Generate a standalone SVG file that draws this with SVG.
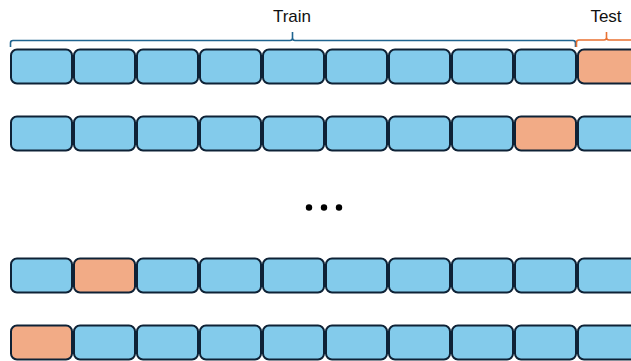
<svg xmlns="http://www.w3.org/2000/svg" width="631" height="361" viewBox="0 0 631 361">
<defs>
<style>
.b{fill:#83CBEB;stroke:#0E2236;stroke-width:2}
.o{fill:#F2AB86;stroke:#0E2236;stroke-width:2}
.lbl{font-family:"Liberation Sans",Arial,sans-serif;font-size:17px;fill:#111;text-anchor:middle}
.br{fill:none;stroke-width:1.6}
</style>
<rect id="c" width="61" height="34" rx="6"/>
</defs>
<rect width="631" height="361" fill="#fff"/>
<g id="connectors">
<path class="br" stroke="#1F6490" d="M10.5,47 V43 Q10.5,40.5 13,40.5 H290 Q292.5,40.5 292.5,38 V32 M292.5,38 Q292.5,40.5 295,40.5 H573 Q575.5,40.5 575.5,43 V47"/>
<path class="br" stroke="#E97132" d="M576.5,47 V42.5 Q576.5,40 579,40 H604 Q606.5,40 606.5,37.5 V32 M606.5,37.5 Q606.5,40 609,40 H640"/>
</g>
<g id="label-train"><text class="lbl" x="292" y="22">Train</text></g>
<g id="label-test"><text class="lbl" x="606" y="22">Test</text></g>
<g id="row1">
<rect class="b" x="11" y="49.5" width="61" height="34" rx="6"/>
<rect class="b" x="74" y="49.5" width="61" height="34" rx="6"/>
<rect class="b" x="137" y="49.5" width="61" height="34" rx="6"/>
<rect class="b" x="200" y="49.5" width="61" height="34" rx="6"/>
<rect class="b" x="263" y="49.5" width="61" height="34" rx="6"/>
<rect class="b" x="326" y="49.5" width="61" height="34" rx="6"/>
<rect class="b" x="389" y="49.5" width="61" height="34" rx="6"/>
<rect class="b" x="452" y="49.5" width="61" height="34" rx="6"/>
<rect class="b" x="515" y="49.5" width="61" height="34" rx="6"/>
<rect class="o" x="578" y="49.5" width="61" height="34" rx="6"/>
</g>
<g id="row2">
<rect class="b" x="11" y="116.5" width="61" height="34" rx="6"/>
<rect class="b" x="74" y="116.5" width="61" height="34" rx="6"/>
<rect class="b" x="137" y="116.5" width="61" height="34" rx="6"/>
<rect class="b" x="200" y="116.5" width="61" height="34" rx="6"/>
<rect class="b" x="263" y="116.5" width="61" height="34" rx="6"/>
<rect class="b" x="326" y="116.5" width="61" height="34" rx="6"/>
<rect class="b" x="389" y="116.5" width="61" height="34" rx="6"/>
<rect class="b" x="452" y="116.5" width="61" height="34" rx="6"/>
<rect class="o" x="515" y="116.5" width="61" height="34" rx="6"/>
<rect class="b" x="578" y="116.5" width="61" height="34" rx="6"/>
</g>
<g id="ellipsis" fill="#000">
<circle cx="309" cy="207.5" r="3.2"/>
<circle cx="324" cy="207.5" r="3.2"/>
<circle cx="339" cy="207.5" r="3.2"/>
</g>
<g id="row3">
<rect class="b" x="11" y="258.5" width="61" height="34" rx="6"/>
<rect class="o" x="74" y="258.5" width="61" height="34" rx="6"/>
<rect class="b" x="137" y="258.5" width="61" height="34" rx="6"/>
<rect class="b" x="200" y="258.5" width="61" height="34" rx="6"/>
<rect class="b" x="263" y="258.5" width="61" height="34" rx="6"/>
<rect class="b" x="326" y="258.5" width="61" height="34" rx="6"/>
<rect class="b" x="389" y="258.5" width="61" height="34" rx="6"/>
<rect class="b" x="452" y="258.5" width="61" height="34" rx="6"/>
<rect class="b" x="515" y="258.5" width="61" height="34" rx="6"/>
<rect class="b" x="578" y="258.5" width="61" height="34" rx="6"/>
</g>
<g id="row4">
<rect class="o" x="11" y="325.5" width="61" height="34" rx="6"/>
<rect class="b" x="74" y="325.5" width="61" height="34" rx="6"/>
<rect class="b" x="137" y="325.5" width="61" height="34" rx="6"/>
<rect class="b" x="200" y="325.5" width="61" height="34" rx="6"/>
<rect class="b" x="263" y="325.5" width="61" height="34" rx="6"/>
<rect class="b" x="326" y="325.5" width="61" height="34" rx="6"/>
<rect class="b" x="389" y="325.5" width="61" height="34" rx="6"/>
<rect class="b" x="452" y="325.5" width="61" height="34" rx="6"/>
<rect class="b" x="515" y="325.5" width="61" height="34" rx="6"/>
<rect class="b" x="578" y="325.5" width="61" height="34" rx="6"/>
</g>
</svg>
